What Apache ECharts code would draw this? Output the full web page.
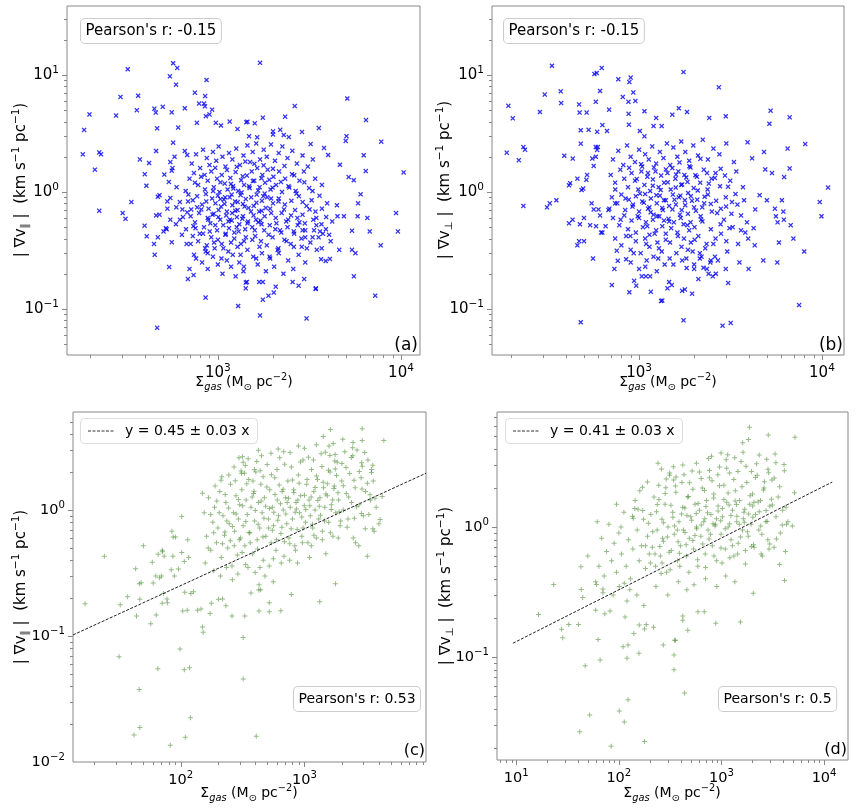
<!DOCTYPE html>
<html>
<head>
<meta charset="utf-8">
<script src="https://cdn.jsdelivr.net/npm/echarts@6/dist/echarts.min.js"></script>
<style>
html, body { margin: 0; padding: 0; background: #fff; }
#chart { width: 858px; height: 809px; }
</style>
</head>
<body>
<div id="chart"></div>
<script>
// values: [sigma_gas, |grad v|]
var pointsA = [
[570,12.6],[600,11.5],[322,11.2],[547,9.75],[867,9.06],[591,8.26],[749,7.06],[294,6.5],[367,6.65],[852,6.6],
[199,4.6],[278,4.5],[361,5.0],[450,5.15],[458,4.77],[500,5.35],[560,4.8],[660,5.2],[790,5.7],
[840,5.7],[850,5.4],[900,4.6],[930,5.05],[860,4.45],[975,3.9],[1040,3.7],[1160,4.0],[1280,3.45],[1430,3.95],
[186,3.39],[466,3.5],[607,3.55],[768,3.9],[570,2.64],[183,2.1],[225,2.18],[230,2.1],[213,1.55],[225,0.69],[302,0.66],[313,0.59],[337,0.82],
[375,1.9],[421,1.77],[399,1.42],[407,1.13],[398,0.515],[409,0.418],[452,0.29],[542,0.228],[466,0.069],
[700,0.22],[737,0.195],[686,0.18],[857,0.125],[1290,0.106],[460,2.24],[660,2.24],[680,2.07],
[560,0.372],[470,0.41],[448,0.36],[520,0.49],[675,0.36],[710,0.36],[852,0.33],[880,0.30],
[510,1.41],[540,1.22],[595,1.1],[470,0.91],[480,0.94],[530,0.83],[550,0.89],[530,0.72],[460,0.63],[480,0.64],[550,0.58],[590,0.53],[620,0.58],[525,0.48],[505,0.46],[670,0.48],[755,0.49],[620,0.82],[640,0.71],[680,0.67],[715,0.71],
[550,1.8],[565,1.6],[580,2.0],[560,1.52],
[720,1.75],[760,2.1],[800,1.6],[830,2.3],[870,1.95],[900,1.7],[940,2.2],[980,1.85],[1010,2.45],[1060,2.0],[1100,1.65],[1150,2.15],[1200,1.9],[1260,2.35],[1320,1.7],[1380,2.05],[1450,2.5],[1500,1.8],
[700,1.3],[740,1.45],[780,1.15],[810,1.35],[850,1.05],[880,1.25],[920,1.5],[950,1.1],[990,1.3],[1020,1.0],[1050,1.4],[1090,1.18],[1130,1.05],[1170,1.32],[1210,1.12],[1250,1.48],[1290,1.02],[1340,1.26],[1390,1.15],[1440,1.38],[1490,1.08],
[690,0.95],[730,0.85],[770,0.92],[820,0.78],[860,0.96],[890,0.72],[930,0.88],[970,0.8],[1000,0.93],[1040,0.75],[1080,0.86],[1120,0.68],[1160,0.9],[1200,0.77],[1240,0.83],[1280,0.7],[1330,0.94],[1370,0.79],[1420,0.87],[1470,0.73],
[710,0.62],[750,0.55],[790,0.66],[840,0.5],[880,0.6],[910,0.54],[950,0.65],[990,0.47],[1030,0.58],[1070,0.52],[1110,0.63],[1150,0.49],[1190,0.57],[1230,0.45],[1270,0.61],[1310,0.53],[1360,0.59],[1410,0.48],[1460,0.56],
[730,0.42],[780,0.38],[830,0.44],[870,0.35],[920,0.41],[960,0.33],[1000,0.39],[1050,0.36],[1100,0.43],[1140,0.31],[1180,0.37],[1230,0.4],[1280,0.34],[1330,0.29],[1390,0.38],[1450,0.32],
[760,0.27],[820,0.25],[880,0.22],[940,0.28],[1000,0.24],[1060,0.2],[1120,0.26],[1180,0.23],[1250,0.19],[1310,0.25],[1380,0.21],[1440,0.17],
[1550,2.2],[1620,2.6],[1700,1.9],[1780,2.3],[1850,2.0],[1950,2.55],[2050,1.85],[2150,2.15],[2250,2.45],[2400,1.95],[2550,2.25],[2700,1.75],[2900,2.05],[3100,1.65],[3300,1.9],
[1530,1.5],[1580,1.25],[1640,1.6],[1690,1.1],[1750,1.4],[1810,1.2],[1870,1.55],[1940,1.05],[2010,1.35],[2080,1.15],[2160,1.5],[2240,1.0],[2330,1.3],[2430,1.12],[2540,1.42],[2660,1.02],[2790,1.25],[2950,1.5],[3150,1.08],[3400,1.3],[3700,1.15],
[1520,0.9],[1570,0.76],[1630,0.95],[1680,0.68],[1740,0.84],[1800,0.62],[1860,0.9],[1930,0.72],[2000,0.8],[2070,0.6],[2150,0.88],[2230,0.66],[2320,0.78],[2420,0.58],[2520,0.84],[2640,0.7],[2770,0.92],[2900,0.64],[3050,0.76],[3250,0.85],[3450,0.6],[3700,0.72],[3950,0.8],
[1540,0.5],[1600,0.42],[1660,0.55],[1720,0.38],[1790,0.47],[1850,0.35],[1920,0.52],[1990,0.41],[2060,0.48],[2140,0.33],[2220,0.45],[2310,0.39],[2400,0.5],[2500,0.36],[2610,0.44],[2730,0.52],[2860,0.4],[3000,0.47],[3200,0.37],[3450,0.52],[3750,0.44],
[1560,0.28],[1650,0.24],[1740,0.3],[1830,0.21],[1930,0.27],[2030,0.23],[2150,0.3],[2280,0.2],[2420,0.26],[2580,0.22],[2760,0.29],[3000,0.25],
[1700,12.7],[5090,6.3],[2630,5.43],[6440,4.12],[1450,3.99],[1590,3.86],[1760,4.32],[2330,4.4],[3560,3.52],[2880,3.26],[2000,3.3],[2190,3.4],[5040,3.0],[4990,2.73],[7800,2.69],
[1480,3.0],[1640,2.93],[2000,3.1],[2290,3.07],[2440,2.95],[3210,2.57],[3800,2.38],[4000,2.07],[6260,2.06],[4640,1.71],[5180,1.34],[5520,1.26],[6420,1.51],[10340,1.47],
[6020,0.955],[5830,0.8],[4500,0.62],[4880,0.62],[5800,0.62],[6550,0.6],[9400,0.66],[5400,0.467],[6750,0.46],[9620,0.46],[7750,0.35],[4600,0.32],[5400,0.32],[5640,0.3],
[5530,0.19],[7230,0.13],[3420,0.148],[3050,0.083],[1700,0.088],[1760,0.12],[1890,0.13],[2020,0.138],[1420,0.15],[1420,0.168],[1680,0.17],[1760,0.17],[2070,0.155],[2760,0.158],[2560,0.17],[2960,0.18],
[3430,0.15],[3660,0.266],[4090,0.268],[3880,0.257],[3470,0.32],[3690,0.33],[3060,0.33],[2870,0.34],[2600,0.34],[3290,0.41],[3550,0.41],[3350,0.47],[3610,0.46],[3890,0.48],[4050,0.43],[4130,0.38],[2900,0.47],[3000,0.41],
[812,0.71],[934,0.64],[1087,0.79],[1163,0.58],[1245,0.69],[968,0.52],[1032,0.87],[1188,0.95],[1372,0.62],[1516,0.68],[1623,0.81],[1709,0.57],[1827,0.73],[1955,0.66],[2088,0.54],[1104,0.44],[1268,0.5],[1421,0.41],[1590,0.47],[1733,0.53],
[903,0.46],[1006,0.61],[864,0.83],[1215,1.07],[1347,0.99],[1482,1.12],[1658,1.03],[1801,0.97],[1989,1.09],[771,0.74],[687,0.83],[645,0.61],[735,0.51],[796,0.44],[953,0.37],[1072,0.33],[1336,0.36],[1542,0.39],[1688,0.34],[1893,0.43],
[2185,0.47],[2362,0.56],[2511,0.63],[2297,0.71],[2143,0.83],[1953,0.88],[1771,0.92],[1614,0.58],[1451,0.54],[1298,0.46],[1142,0.56],[1009,0.7],[887,0.58],[1196,0.66],[1399,0.75],[1566,0.63],[1735,0.69],[1283,0.82],[1095,0.9],[942,1.02],
[1033,1.21],[1179,1.17],[1367,1.36],[1554,1.24],[1729,1.31],[1908,1.27],[2210,1.22],[2455,1.09],[2689,0.97],[2904,0.82],[3168,0.71],[3412,0.68],[2788,0.55],[2597,0.46],[2372,0.38],[2120,0.32],[1915,0.28],[1619,0.27],[1387,0.23],[1206,0.29],
[1046,0.27],[859,0.31],[741,0.29],[636,0.43],[593,0.74],[667,1.02],[749,1.2],[846,1.4],[967,1.61],[1121,1.54],[1268,1.64],[1412,1.82],[1583,1.74],[1777,1.69],[1998,1.58],[2310,1.67],[2612,1.39],[2967,1.21],[3288,1.02],[3590,0.93],
[4210,0.56],[4470,0.77],[3905,0.61],[3680,0.53],[3320,0.58],[2985,0.54],[2719,0.6]
];

var pointsB = [
[334,12.0],[570,10.2],[587,10.4],[625,11.5],[770,9.2],[885,8.7],[900,9.5],[612,7.3],[373,7.25],[305,6.8],
[815,6.5],[875,5.9],[955,6.0],[930,7.1],[580,5.9],[375,5.75],[193,5.45],[204,4.26],[287,4.83],[470,5.6],[473,4.77],[517,4.77],
[686,5.05],[877,4.66],[1070,4.9],[630,3.73],[668,3.32],[880,3.76],[1010,3.32],[1070,2.99],[1200,3.66],[1330,3.66],[1240,4.3],
[480,3.37],[530,3.4],[590,3.27],[480,2.59],[189,2.17],[220,1.87],[233,2.42],[238,2.3],[390,2.04],[434,1.93],[580,2.42],[590,2.29],
[233,0.76],[314,0.74],[325,0.8],[353,0.85],[414,0.54],[433,0.58],[460,0.35],[470,0.38],[500,0.38],[480,0.077],[560,0.27],
[710,0.16],[733,0.22],[885,0.139],[940,0.174],[965,0.158],[1035,0.19],[1090,0.19],[1150,0.19],[1160,0.14],[1320,0.117],
[755,0.315],[765,0.258],[850,0.266],[475,0.53],[500,0.6],[540,0.52],[582,0.51],[620,0.45],[630,0.45],
[550,0.8],[565,0.71],[600,0.71],[680,0.7],[740,0.8],[420,1.19],[414,1.14],[460,1.3],[520,1.4],[515,1.27],[485,1.04],[495,1.07],
[555,1.93],[565,1.67],[580,2.0],[595,2.42],
[1750,10.6],[2730,7.85],[5240,4.96],[6660,4.35],[5160,3.83],[1650,5.2],[1830,4.83],[1520,4.58],[2420,4.3],[2980,4.44],
[8100,2.57],[6490,2.35],[4820,2.2],[4150,1.94],[3920,2.66],[4900,1.56],[5330,1.45],[6660,1.59],[6210,1.34],[10800,1.09],
[9730,0.82],[9940,0.62],[5000,0.85],[6040,0.85],[5530,0.72],[6150,0.68],[5600,0.62],[5720,0.55],[6190,0.58],
[6750,0.52],[6980,0.4],[8000,0.31],[5820,0.37],[4230,0.49],[4290,0.35],[3810,0.45],[3950,0.4],[3610,0.47],
[4780,0.26],[5700,0.25],[3970,0.22],[3540,0.25],[7500,0.108],[2860,0.072],[3170,0.076],[1750,0.08],[3070,0.167],[2980,0.22],
[1950,0.135],[1780,0.147],[1720,0.143],[1460,0.17],[1510,0.16],[1430,0.15],
[1820,0.224],[2000,0.22],[2110,0.18],[2250,0.225],[2400,0.2],[2530,0.19],[2630,0.2],[2150,0.27],[2470,0.26],[2700,0.26],[1340,0.118],
[720,1.9],[770,2.25],[820,1.7],[860,2.5],[900,2.0],[950,1.8],[1000,2.3],[1040,1.65],[1080,2.1],[1130,1.9],[1180,2.45],[1240,1.75],[1300,2.2],[1360,1.95],[1420,2.6],[1480,1.7],
[700,1.4],[740,1.2],[790,1.55],[830,1.3],[870,1.1],[910,1.45],[950,1.25],[990,1.05],[1030,1.5],[1070,1.15],[1110,1.35],[1150,1.02],[1190,1.28],[1230,1.5],[1280,1.1],[1320,1.38],[1370,1.2],[1430,1.45],[1490,1.05],
[710,0.9],[760,0.8],[800,0.95],[840,0.7],[880,0.86],[920,0.75],[960,0.92],[1000,0.68],[1040,0.83],[1080,0.96],[1120,0.72],[1160,0.88],[1200,0.64],[1250,0.8],[1300,0.93],[1350,0.7],[1400,0.85],[1460,0.76],
[720,0.6],[780,0.52],[830,0.63],[870,0.48],[910,0.57],[960,0.45],[1000,0.6],[1050,0.5],[1090,0.55],[1140,0.43],[1190,0.58],[1240,0.47],[1290,0.62],[1340,0.51],[1400,0.44],[1460,0.56],
[740,0.4],[800,0.35],[850,0.42],[900,0.32],[960,0.38],[1020,0.3],[1080,0.4],[1140,0.34],[1200,0.28],[1260,0.37],[1330,0.31],[1400,0.39],[1470,0.27],
[900,0.25],[1000,0.22],[1100,0.26],[1250,0.21],[1380,0.24],
[1540,2.4],[1620,2.0],[1700,2.7],[1790,2.2],[1880,1.85],[1980,2.5],[2100,2.05],[2230,2.8],[2380,1.9],[2550,2.35],[2750,2.1],[3000,2.6],[3300,1.8],
[1520,1.6],[1580,1.3],[1640,1.5],[1700,1.15],[1770,1.4],[1840,1.22],[1910,1.62],[1990,1.08],[2070,1.35],[2160,1.2],[2260,1.55],[2370,1.05],[2490,1.3],[2620,1.45],[2770,1.12],[2950,1.38],[3150,1.25],[3400,1.5],[3700,1.1],
[1530,0.95],[1590,0.78],[1650,0.9],[1710,0.7],[1780,0.85],[1850,0.65],[1920,0.92],[2000,0.74],[2080,0.86],[2170,0.62],[2270,0.8],[2380,0.95],[2500,0.68],[2640,0.84],[2800,0.72],[2980,0.9],[3200,0.65],[3450,0.78],[3750,0.85],
[1550,0.55],[1620,0.45],[1690,0.6],[1760,0.4],[1840,0.52],[1920,0.37],[2010,0.5],[2110,0.42],[2220,0.56],[2340,0.36],[2470,0.48],[2620,0.4],[2790,0.53],[3000,0.38],[3250,0.5],
[1600,0.3],[1720,0.26],[1850,0.32],[2000,0.24],[2150,0.3],[2350,0.22],[2600,0.28],
[1062,0.81],[1157,0.67],[1243,0.94],[1338,0.73],[1449,0.59],[1562,0.86],[1674,0.64],[1788,0.77],[1912,0.55],[2046,0.69],[983,0.62],[1109,0.51],[1217,0.44],[1369,0.57],[1498,0.49],[1631,0.42],[1752,0.53],[1880,0.47],[2014,0.39],[2187,0.58],
[927,0.78],[1011,0.97],[1189,1.13],[1313,1.04],[1436,1.21],[1587,1.09],[1719,1.16],[1854,0.98],[2093,1.03],[2283,0.91],[2468,0.79],[2673,0.66],[2911,0.58],[3122,0.49],[2806,0.44],[2547,0.36],[2301,0.33],[1963,0.31],[1706,0.34],[1477,0.37],
[1285,0.33],[1093,0.36],[896,0.42],[793,0.58],[843,0.88],[741,1.05],[688,0.72],[656,0.51],[612,0.63],[1368,0.85],[1523,0.71],[1139,0.74],[1258,0.62],[1682,0.93],[1946,0.84],[2215,0.74],[2407,1.18],[2596,1.32],[2352,1.45],[2034,1.39],
[1811,1.33],[1593,1.41],[1402,1.56],[1206,1.62],[1026,1.73],[883,1.61],[972,1.29],[1118,1.45],[1664,1.79],[1886,1.66],[2166,1.92],[2794,1.58],[3066,1.11],[3367,0.96],[3611,0.63],[3890,0.55],[4317,0.71],[4563,0.94],[3221,0.82],[2991,0.75],
[1273,0.27],[1541,0.24],[1814,0.27],[2196,0.28],[2452,0.25],[1082,0.23],[935,0.3],[3480,0.36],[3035,0.31]
];

var pointsC = [
[425,2.98],[296,2.6],[316,2.65],[333,2.26],[308,2.04],[310,1.96],[394,2.1],[215,1.84],[464,1.84],[150,1.36],[102,0.89],[24.2,0.43],[50,0.52],
[16.9,0.18],[32.5,0.177],[37.3,0.205],[43.3,0.342],[46.4,0.26],[48,0.265],[44,0.144],[57.4,0.125],[63.5,0.147],[46.8,0.196],[71,0.182],[78,0.184],
[59,0.385],[65.8,0.445],[73.7,0.43],[86.6,0.43],[71.4,0.467],[63,0.3],[67.6,0.29],[60,0.263],[70,0.3],[84,0.335],[85,0.68],[91,0.61],[87,0.61],
[71,0.48],[102,0.46],[89,0.3],[96,0.34],[114,0.58],[116,0.42],[107,0.39],[108,0.223],[121,0.218],[127,0.225],[104,0.158],[113,0.16],[146,0.164],
[150,0.118],[152,0.107],[77.5,0.197],[72.5,0.218],[31.8,0.0685],[98.7,0.079],[65.4,0.055],[107,0.054],[118,0.056],[46.2,0.0377],[120,0.0225],
[46.8,0.0188],[42,0.0164],[82.5,0.0136],[109,0.0157],[408,0.016],[320,0.0975],[320,0.0455],[177,0.182],[173,0.151],[202,0.196],[218,0.197],[232,0.174],
[137,0.16],[260,0.144],[330,0.144],[430,0.158],[428,0.232],[370,0.22],
[2930,4.42],[1620,4.36],[4380,3.57],[2470,3.44],[2930,3.57],[1420,3.84],[1580,3.22],[1770,2.76],[1760,2.45],[2460,2.7],[2900,2.37],[2930,2.23],
[3480,2.1],[3480,1.99],[4250,1.28],[4090,0.84],[3100,0.71],[3570,0.71],[3660,0.68],[3220,0.43],[2590,0.55],[2750,0.52],[1780,0.26],[1330,0.187],
[784,0.214],[645,0.159],[520,0.156],[520,0.184],[443,0.233],[430,0.255],
[155,0.95],[162,0.62],[168,1.25],[175,0.48],[182,0.8],[188,1.05],[195,0.55],[200,0.72],[207,1.4],[213,0.42],[220,0.9],[226,0.63],[232,1.15],[240,0.5],[247,0.78],[253,1.6],[260,0.36],[267,0.95],[273,0.68],[280,1.3],[287,0.44],[293,0.85],[300,1.1],
[158,0.38],[185,0.33],[210,0.3],[235,0.35],[262,0.28],[290,0.31],[190,1.55],[245,1.9],[270,2.2],
[305,0.6],[312,1.45],[320,0.75],[330,0.52],[338,1.2],[345,0.92],[355,1.75],[362,0.66],[370,1.05],[380,0.45],[388,1.35],[396,0.82],[405,2.0],[415,0.58],[425,1.15],[435,0.72],[445,1.6],[455,0.95],[465,0.4],[475,1.25],[488,0.62],[500,2.3],[512,0.85],[525,1.45],[538,0.55],[550,1.05],[563,0.75],[576,1.8],[590,0.48],[604,1.2],[618,0.9],[632,2.6],[646,0.65],[660,1.4],[675,1.0],[690,0.56],
[320,2.4],[350,0.35],[400,0.32],[450,2.7],[480,0.3],[520,0.36],[560,0.27],[600,2.1],[650,0.38],[680,2.9],
[705,1.25],[720,0.78],[735,1.7],[750,0.6],[768,1.05],[785,2.2],[800,0.85],[818,1.45],[836,0.52],[855,1.15],[874,0.7],[893,1.9],[912,0.95],[932,1.3],[953,0.62],[975,2.5],[997,1.08],[1020,0.8],[1043,1.6],[1067,0.55],[1090,1.2],[1115,0.9],[1140,2.1],[1166,0.72],[1192,1.4],[1220,1.0],[1248,0.6],[1276,1.75],[1305,0.85],[1335,1.25],[1365,2.8],[1396,0.68],[1428,1.5],[1460,1.05],[1490,0.45],
[760,0.4],[880,0.38],[1000,3.1],[1100,0.42],[1250,3.3],
[1530,1.3],[1570,0.8],[1610,2.0],[1650,1.1],[1700,0.62],[1745,1.55],[1790,0.95],[1840,2.4],[1890,1.2],[1940,0.75],[2000,1.7],[2060,1.0],[2120,2.9],[2180,1.35],[2250,0.85],[2320,1.95],[2400,1.15],[2480,0.6],[2570,1.5],[2660,3.0],[2760,1.1],[2870,1.8],[2990,0.9],[3120,1.4],[3260,2.5],[3420,1.2],[3600,1.7],[3800,1.05],[4000,0.78],
[262,0.74],[281,0.93],[298,0.58],[317,1.08],[336,0.81],[357,0.66],[378,1.27],[401,0.99],[423,0.77],[447,1.18],[471,0.86],[497,1.52],[523,1.03],[551,0.69],[579,1.33],[609,0.83],[641,1.12],[673,1.46],[707,0.93],[743,1.24],
[781,0.71],[821,1.38],[862,1.02],[906,1.63],[952,0.88],[1001,1.31],[1051,1.75],[1105,1.08],[1161,0.77],[1221,1.51],[1283,1.19],[1348,0.91],[1417,1.66],[1489,1.34],[1565,2.07],[1645,1.01],[1729,1.48],[1817,1.88],[1909,0.97],[2006,2.34],
[271,0.52],[293,1.21],[314,0.46],[342,1.62],[365,0.55],[392,1.41],[418,0.49],[439,2.05],[462,0.61],[486,1.07],[514,0.72],[542,1.91],[566,0.96],[596,0.58],[626,1.58],[658,0.73],[692,2.31],[726,1.15],[762,0.54],[800,1.73],
[842,0.96],[884,1.2],[929,2.41],[976,0.72],[1026,1.01],[1078,2.63],[1133,1.27],[1192,0.63],[1253,1.86],[1318,1.07],[1385,2.22],[1456,0.82],[1530,1.62],[1608,2.71],[1690,1.2],[1776,2.12],[1867,1.37],[1962,0.82],[2062,1.56],[2167,2.18],
[2277,1.27],[2393,2.61],[2515,1.72],[2643,1.06],[2778,2.02],[2919,1.47],[3068,2.86],[3225,1.63],[3390,1.32],[3563,2.27],
[228,0.67],[244,1.04],[236,0.82],[252,0.57],[205,0.95],[218,0.54],[196,1.18],[185,0.66],[175,0.92],[167,0.5],[212,1.72],[229,1.33],[276,1.71],[328,1.96],[384,1.7],[351,2.55],[412,2.43],[537,2.82],[614,3.05],[766,2.86],
[894,3.22],[1182,2.5],[1476,2.88],[1709,3.37],[2042,3.65],[2454,3.12],[847,0.48],[963,0.55],[1137,0.52],[1395,0.58],[1622,0.66],[1876,0.6],[2214,0.73],[2532,0.86],[2882,0.94],[3313,0.92],[3714,1.24],[684,0.43],[561,0.41],[437,0.35],[335,0.37]
];

var pointsD = [
[241,3.09],[340,2.91],[290,2.34],[342,2.3],[313,2.6],[170,2.02],[190,2.22],[143,1.39],[154,1.37],[138,1.17],[136,1.21],[105,1.0],[61.6,1.1],[49.8,0.6],
[42.7,0.495],[23.2,0.362],[16.5,0.213],[27.7,0.164],[28.4,0.141],[32.5,0.178],[40.5,0.178],[43,0.332],[44.5,0.288],[62.8,0.137],[65.7,0.095],[47,0.086],
[52,0.036],[41.6,0.0267],[84.1,0.0207],[101,0.0385],[113,0.0317],[123,0.047],[178,0.0225],[120,0.098],[157,0.107],[110,0.12],[123,0.124],
[60.5,0.362],[59.5,0.38],[70,0.313],[70,0.334],[82,0.226],[73,0.216],[59.5,0.229],[101,0.35],[113,0.37],[128,0.33],[115,0.204],[140,0.152],
[158,0.177],[178,0.165],[185,0.178],[218,0.17],[271,0.124],[356,0.135],[345,0.104],[345,0.08],
[1870,5.85],[2860,5.1],[5200,4.9],[1610,4.45],[1830,4.72],[3330,3.65],[3390,3.12],[4070,3.03],[4100,2.71],[2840,2.78],[990,3.72],[750,3.37],[570,3.09],
[5150,1.84],[4300,1.05],[4900,1.02],[3690,0.516],[4120,0.389],[2040,0.31],[1530,0.186],[880,0.182],[680,0.223],[590,0.223],[470,0.161],[420,0.192],[420,0.207],
[350,0.135],[437,0.053],
[64,0.5],[68,0.82],[72,0.42],[76,0.65],[80,1.05],[85,0.55],[90,0.75],[95,0.45],[100,0.9],[106,0.62],[112,1.3],[118,0.5],[124,0.8],[130,0.4],[137,0.68],[144,1.6],[151,0.95],[158,0.55],[166,0.72],[174,1.15],[182,0.48],[190,0.85],[198,0.62],
[88,0.3],[120,0.27],[150,0.3],[175,0.25],[95,1.5],[160,1.9],
[205,1.25],[212,0.7],[220,1.7],[228,0.5],[236,0.95],[245,2.1],[254,0.6],[263,1.15],[272,0.78],[282,1.5],[292,0.45],[302,1.0],[313,2.5],[324,0.66],[335,1.3],[347,0.88],[360,1.85],[372,0.55],[385,1.1],[398,0.72],[412,2.2],[426,0.95],[440,1.4],[455,0.6],[470,1.7],[486,0.82],[502,1.2],[518,2.7],[535,0.68],[552,1.5],[570,1.0],[588,0.5],
[230,0.35],[300,0.3],[380,0.38],[460,0.33],[540,0.36],[260,2.8],[420,3.0],
[610,1.35],[630,0.85],[650,2.0],[672,1.1],[694,0.62],[716,1.6],[740,0.95],[764,2.4],[789,1.25],[815,0.72],[842,1.8],[870,1.05],[898,0.55],[928,1.45],[958,2.9],[990,0.88],[1022,1.2],[1055,2.1],[1090,0.68],[1126,1.55],[1163,1.0],[1200,2.6],[1240,0.8],[1280,1.35],[1322,0.6],[1365,1.9],[1410,1.1],[1456,0.75],[1504,1.6],[1553,3.2],[1604,0.95],[1656,1.3],[1711,0.52],[1767,2.2],[1825,0.85],[1885,1.5],[1946,1.05],
[700,0.4],[900,0.35],[1100,0.42],[1350,0.38],[800,3.5],[1150,3.6],
[2010,1.8],[2080,0.7],[2150,1.25],[2230,2.5],[2310,0.95],[2400,1.6],[2500,0.6],[2600,2.0],[2710,1.1],[2830,0.8],[2960,1.45],[3100,2.3],[3250,0.7],[3400,1.2],[3570,1.7],[3750,0.9],[3950,1.35],[4200,0.65],[4450,1.1],
[214,0.92],[233,1.31],[251,0.71],[273,1.08],[297,0.84],[322,1.47],[349,1.02],[378,0.77],[409,1.26],[441,0.91],[475,1.72],[512,1.13],[551,0.86],[592,1.52],[636,1.04],[683,1.91],[731,1.29],[783,0.88],[838,1.67],[896,1.16],
[957,2.08],[1021,1.39],[1089,0.97],[1161,1.83],[1237,1.23],[1318,2.32],[1402,1.49],[1492,1.05],[1586,2.04],[1686,1.37],[1791,0.92],[1902,1.74],[2019,1.19],[2143,2.41],[2274,1.56],[2413,1.02],[2561,1.93],[2718,1.34],[2886,2.62],[3065,1.64],
[225,0.62],[246,1.63],[264,0.53],[287,2.01],[309,0.64],[336,1.19],[361,2.43],[389,0.63],[420,1.42],[453,0.73],[489,2.19],[526,0.79],[568,1.27],[611,2.65],[657,0.74],[706,1.44],[757,0.81],[810,2.27],[866,1.02],[926,1.33],
[989,0.69],[1055,1.63],[1125,2.84],[1200,1.06],[1278,0.72],[1360,1.59],[1447,2.68],[1538,0.84],[1634,1.16],[1736,2.93],[1843,1.26],[1956,0.71],[2075,1.55],[2201,3.07],[2334,1.31],[2476,0.88],[2626,2.23],[2785,1.11],[2954,0.74],[3134,1.48],
[194,1.07],[182,0.72],[171,1.34],[203,0.53],[258,0.44],[316,0.47],[393,0.5],[482,0.45],[585,0.56],[701,0.49],[845,0.6],[1012,0.53],[1207,0.58],[1437,0.62],[1711,0.66],[2052,0.73],[2437,0.62],[2906,0.68],[3432,0.81],[3911,1.04],
[4254,1.42],[3687,2.04],[3269,2.38],[2761,3.33],[2334,3.58],[1957,2.67],[1623,3.76],[1347,3.41],[1112,3.29],[923,2.53],[765,2.72],[635,2.36],[527,1.95],[432,2.53],[356,2.07],[283,1.81],[237,1.49],[267,0.82],[371,0.95],[461,1.23],
[574,0.97],[688,1.16],[827,1.06],[983,1.12],[1187,1.48],[1413,1.21],[1672,1.09],[2011,1.45]
];

// dashed fit lines, end points
var fitC = [[13.5, 0.102], [9600, 1.96]];
var fitD = [[9.3, 0.128], [12000, 2.22]];

var pearsonLabels = ["Pearson's r: -0.15", "Pearson's r: -0.15", "Pearson's r: 0.53", "Pearson's r: 0.5"];
var fitLabels = ["y = 0.45 \u00b1 0.03 x", "y = 0.41 \u00b1 0.03 x"];
var panelTags = ["(a)", "(b)", "(c)", "(d)"];

var xRanges = [[150, 12700], [157, 13200], [13.5, 9600], [6.5, 17100]];
var yRanges = [[0.0404, 38.9], [0.0404, 38.9], [0.01, 6.0], [0.0162, 7.67]];

var grids = [
	{left: 67, top: 6, width: 353, height: 349},
	{left: 492, top: 6, width: 352, height: 349},
	{left: 73, top: 412, width: 353, height: 350},
	{left: 497, top: 412, width: 351, height: 348}
];

var FONT = '"DejaVu Sans", sans-serif';
var FRAME = '#888';
var xMark = 'path://M0,1.8L1.8,0L5,3.2L8.2,0L10,1.8L6.8,5L10,8.2L8.2,10L5,6.8L1.8,10L0,8.2L3.2,5Z';
var plusMark = 'path://M4,0H6V4H10V6H6V10H4V6H0V4H4Z';

function powLabel(v) {
	var e = Math.log10(v);
	var r = Math.round(e);
	if (Math.abs(e - r) > 1e-6) return '';
	return '{b|10}{s|' + (r < 0 ? '\u2212' + (-r) : r) + '}';
}

function tickValues(r) {
	var out = [];
	for (var e = Math.floor(Math.log10(r[0])); e <= Math.ceil(Math.log10(r[1])); e++) {
		for (var m = 1; m <= 9; m++) {
			var v = m * Math.pow(10, e);
			if (v >= r[0] * 1.0001 && v <= r[1] * 0.9999) out.push([v, m === 1]);
		}
	}
	return out;
}

function makeAxis(i, dir, fs) {
	var r = dir === 'x' ? xRanges[i] : yRanges[i];
	return {
		type: 'log', gridIndex: i, min: r[0], max: r[1],
		axisLine: {show: false}, axisTick: {show: false}, splitLine: {show: false},
		axisLabel: {
			margin: 8, formatter: powLabel, color: '#000',
			rich: {
				b: {fontSize: fs, fontFamily: FONT, color: '#000', lineHeight: 20},
				s: {fontSize: fs * 0.7, fontFamily: FONT, color: '#000', verticalAlign: 'top', lineHeight: 8}
			}
		}
	};
}

// major and minor ticks, matplotlib style (minor at 2..9 x 10^n)
function tickSeries(i) {
	var xr = xRanges[i], yr = yRanges[i];
	var data = [];
	tickValues(xr).forEach(function(t) { data.push([t[0], yr[0], t[1] ? 0 : 1]); });
	tickValues(yr).forEach(function(t) { data.push([xr[0], t[0], t[1] ? 2 : 3]); });
	return {
		type: 'custom', xAxisIndex: i, yAxisIndex: i, silent: true, clip: false, data: data,
		renderItem: function(params, api) {
			var p = api.coord([api.value(0), api.value(1)]);
			var kind = api.value(2);
			var len = kind % 2 === 0 ? 5 : 3;
			var shape;
			if (kind < 2) {
				var x = Math.round(p[0]) + 0.5;
				shape = {x1: x, y1: p[1], x2: x, y2: p[1] + len};
			} else {
				var y = Math.round(p[1]) + 0.5;
				shape = {x1: p[0] - len, y1: y, x2: p[0], y2: y};
			}
			return {type: 'line', shape: shape, style: {stroke: FRAME, lineWidth: 1}};
		}
	};
}

function richText(x, y, text, fs, rot) {
	return {
		type: 'text', x: x, y: y, rotation: rot || 0, silent: true,
		style: {
			text: text, fontSize: fs, fontFamily: FONT, fill: '#000',
			align: 'center', verticalAlign: 'middle', lineHeight: 20,
			rich: {
				sub: {fontSize: fs * 0.7, fontFamily: FONT, fill: '#000', verticalAlign: 'bottom', lineHeight: 13},
				isub: {fontSize: fs * 0.7, fontFamily: FONT, fontStyle: 'italic', fill: '#000', verticalAlign: 'bottom', lineHeight: 13},
				sup: {fontSize: fs * 0.7, fontFamily: FONT, fill: '#000', verticalAlign: 'top', lineHeight: 8}
			}
		}
	};
}

function boxText(x, y, text, fs) {
	return {
		type: 'text', x: x, y: y, silent: true,
		style: {
			text: text, fontSize: fs, fontFamily: FONT, fill: '#000',
			backgroundColor: '#fff', borderColor: '#ccc', borderWidth: 1, borderRadius: 4,
			padding: [3.5, 4.5, 3.5, 4.5], lineHeight: 17
		}
	};
}

function legendBox(x, y, text) {
	return [
		{type: 'rect', silent: true, shape: {x: x + 0.5, y: y + 0.5, width: 177, height: 25, r: 4},
			style: {fill: '#fff', stroke: '#ddd', lineWidth: 1}},
		{type: 'line', silent: true, shape: {x1: x + 8, y1: y + 13, x2: x + 34, y2: y + 13},
			style: {stroke: '#333', lineWidth: 1, lineDash: [3, 1.5]}},
		{type: 'text', silent: true, x: x + 45, y: y + 13,
			style: {text: text, fontSize: 14, fontFamily: FONT, fill: '#000', verticalAlign: 'middle'}}
	];
}

var xTitle = '\u03a3{isub|gas} (M{sub|\u2299} pc{sup|\u22122})';
var yTitlePar = '| \u2207v{sub|\u2225} |  (km s{sup|\u22121} pc{sup|\u22121})';
var yTitlePerp = '| \u2207v{sub|\u22a5} |  (km s{sup|\u22121} pc{sup|\u22121})';

var series = [];
var scatterSets = [pointsA, pointsB, pointsC, pointsD];
scatterSets.forEach(function(pts, i) {
	series.push({
		type: 'scatter', xAxisIndex: i, yAxisIndex: i, data: pts, silent: true,
		symbol: i < 2 ? xMark : plusMark, symbolSize: 5,
		itemStyle: {color: i < 2 ? '#0000f0' : 'rgba(40,118,10,0.62)'}
	});
});
series.push({type: 'line', xAxisIndex: 2, yAxisIndex: 2, data: fitC, symbol: 'none', silent: true,
	lineStyle: {color: '#222', width: 1, type: [3, 1.5]}, clip: true});
series.push({type: 'line', xAxisIndex: 3, yAxisIndex: 3, data: fitD, symbol: 'none', silent: true,
	lineStyle: {color: '#222', width: 1, type: [3, 1.5]}, clip: true});
for (var k = 0; k < 4; k++) series.push(tickSeries(k));

var graphics = [
	richText(21, 180, yTitlePar, 15, Math.PI / 2),
	richText(445, 180, yTitlePerp, 15, Math.PI / 2),
	richText(21, 587, yTitlePar, 15, Math.PI / 2),
	richText(446, 586, yTitlePerp, 15, Math.PI / 2),
	richText(244, 382, xTitle, 14),
	richText(668, 382, xTitle, 14),
	richText(249, 793, xTitle, 14),
	richText(672, 793, xTitle, 14),
	boxText(81, 19, pearsonLabels[0], 15),
	boxText(504, 19, pearsonLabels[1], 15),
	boxText(294, 687, pearsonLabels[2], 14),
	boxText(719, 687, pearsonLabels[3], 14),
	{type: 'text', x: 418, y: 354, silent: true, style: {text: panelTags[0], fontSize: 17, fontFamily: FONT, fill: '#000', align: 'right', verticalAlign: 'bottom'}},
	{type: 'text', x: 843, y: 354, silent: true, style: {text: panelTags[1], fontSize: 17, fontFamily: FONT, fill: '#000', align: 'right', verticalAlign: 'bottom'}},
	{type: 'text', x: 425, y: 759, silent: true, style: {text: panelTags[2], fontSize: 16, fontFamily: FONT, fill: '#000', align: 'right', verticalAlign: 'bottom'}},
	{type: 'text', x: 847, y: 758, silent: true, style: {text: panelTags[3], fontSize: 16, fontFamily: FONT, fill: '#000', align: 'right', verticalAlign: 'bottom'}}
].concat(legendBox(80, 418, fitLabels[0])).concat(legendBox(505, 418, fitLabels[1]));

var chart = echarts.init(document.getElementById('chart'), null, {renderer: 'canvas'});
chart.setOption({
	animation: false,
	backgroundColor: '#fff',
	grid: grids.map(function(g) {
		return Object.assign({show: true, borderColor: FRAME, borderWidth: 1, backgroundColor: 'transparent'}, g);
	}),
	xAxis: [0, 1, 2, 3].map(function(i) { return makeAxis(i, 'x', i < 2 ? 15 : 14.5); }),
	yAxis: [0, 1, 2, 3].map(function(i) { return makeAxis(i, 'y', i < 2 ? 15 : 14.5); }),
	series: series,
	graphic: graphics
});
</script>
</body>
</html>
